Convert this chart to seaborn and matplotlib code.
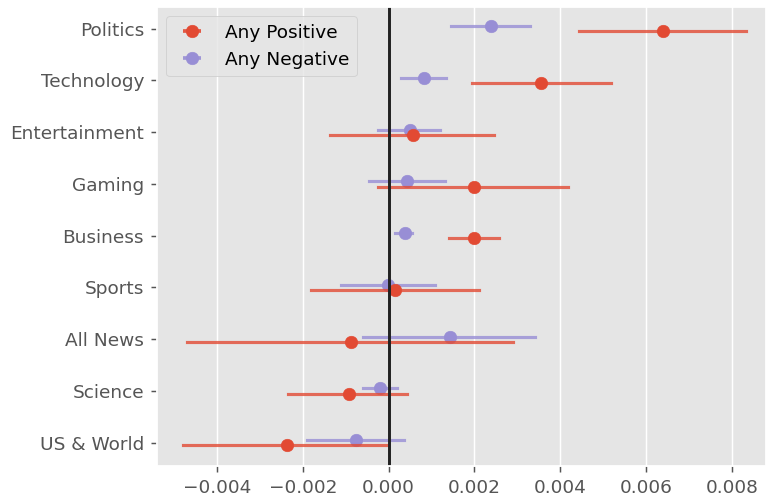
import matplotlib.pyplot as plt
import numpy as np
import pandas as pd
import seaborn as sns
from matplotlib.collections import LineCollection
from matplotlib.container import ErrorbarContainer
from matplotlib.lines import Line2D

# Categories, top to bottom
categories = ["Politics", "Technology", "Entertainment", "Gaming", "Business",
              "Sports", "All News", "Science", "US & World"]

# Any Positive: point estimate and interval ends
pos_mean = [0.0064, 0.00356, 0.00056, 0.00199, 0.00199, 0.00016, -0.00087, -0.00092, -0.00238]
pos_lo = [0.00443, 0.00194, -0.00137, -0.00025, 0.00141, -0.00181, -0.00469, -0.00234, -0.00479]
pos_hi = [0.00833, 0.00519, 0.00245, 0.00419, 0.00258, 0.0021, 0.00289, 0.00044, -0.00004]

# Any Negative
neg_mean = [0.00239, 0.00083, 0.00051, 0.00043, 0.00038, -0.00001, 0.00144, -0.00019, -0.00075]
neg_lo = [0.00145, 0.00028, -0.00025, -0.00046, 0.00016, -0.00112, -0.0006, -0.0006, -0.00191]
neg_hi = [0.00329, 0.00135, 0.00119, 0.00132, 0.00054, 0.00109, 0.00341, 0.00019, 0.00035]

series = {
    "Any Positive": (pos_lo, pos_mean, pos_hi),
    "Any Negative": (neg_lo, neg_mean, neg_hi),
}

# Long table: lo / mean / hi rows per group, median gives the point, min-max the bar
rows = []
for name, (lo, mid, hi) in series.items():
    for cat, a, b, c in zip(categories, lo, mid, hi):
        for v in (a, b, c):
            rows.append({"category": cat, "effect": v, "group": name})
df = pd.DataFrame(rows)

plt.style.use("ggplot")

fig = plt.figure(figsize=(767 / 133, 500 / 133), dpi=133)
ax = fig.add_axes([0.2047, 0.068, 0.794, 0.918])

palette = {"Any Positive": "#E24A33", "Any Negative": "#988ED5"}

sns.pointplot(
    data=df,
    x="effect",
    y="category",
    hue="group",
    order=categories,
    hue_order=["Any Negative", "Any Positive"],
    palette=palette,
    estimator="median",
    errorbar=lambda v: (v.min(), v.max()),
    markers="o",
    linestyles="none",
    dodge=0.1,
    markersize=6.8,
    markeredgewidth=0.3,
    err_kws={"linewidth": 1.7, "alpha": 0.8},
    legend=False,
    ax=ax,
)

ax.axvline(0, color="#222222", linewidth=1.6)

ax.set_xlim(-0.0054, 0.0088)
ax.set_ylim(8.45, -0.42)
ax.set_xlabel("")
ax.set_ylabel("")
ticks = np.arange(-0.004, 0.0081, 0.002)
ax.set_xticks(ticks)
ax.set_xticklabels([f"{t:.3f}".replace("-", "\u2212") for t in ticks])

# errorbar-style legend keys (marker with a short bar)
keys = []
for name in ["Any Positive", "Any Negative"]:
    c = palette[name]
    pt = Line2D([], [], marker="o", linestyle="none", color=c,
                markersize=6.8, markeredgewidth=0.3)
    bar = LineCollection([], colors=[c], linewidths=2.0, alpha=0.9)
    keys.append(ErrorbarContainer((pt, (), (bar,)), has_xerr=True, has_yerr=False, label=name))
ax.legend(handles=keys, labels=["Any Positive", "Any Negative"], loc="upper left")

plt.savefig("out.png", dpi=133)
